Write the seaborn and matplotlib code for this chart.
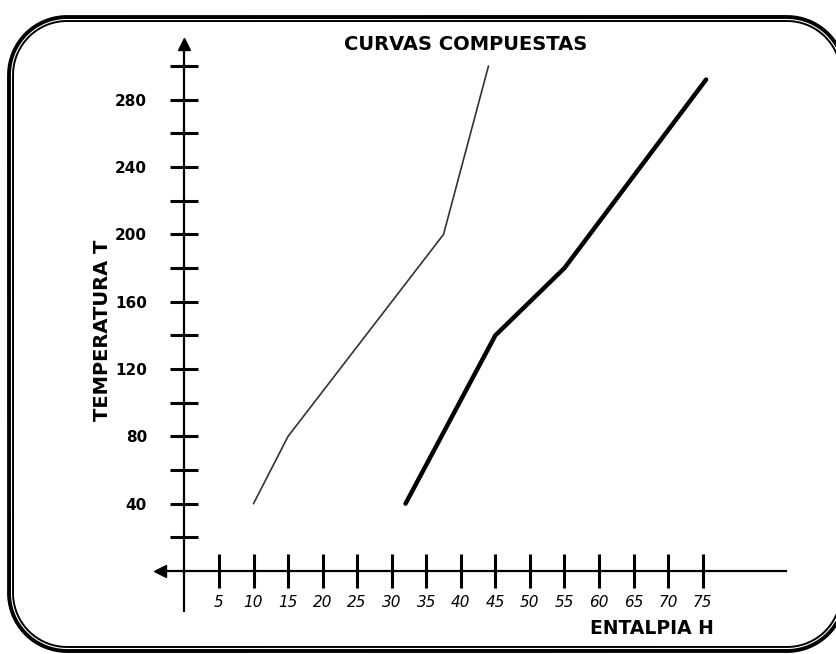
import matplotlib
matplotlib.use("Agg")
import matplotlib.pyplot as plt
from matplotlib.ticker import FixedLocator, NullFormatter
import numpy as np
import pandas as pd
import seaborn as sns

# Composite curves: hot stream (thin) and cold stream (thick)
hot_h = [10, 15, 37.5, 44]
hot_t = [40, 80, 200, 300]
cold_h = [32, 45, 55, 75.5]
cold_t = [40, 140, 180, 292]

x_ticks = [5, 10, 15, 20, 25, 30, 35, 40, 45, 50, 55, 60, 65, 70, 75]
y_major = [40, 80, 120, 160, 200, 240, 280]
y_minor = [20, 60, 100, 140, 180, 220, 260, 300]

title = "CURVAS COMPUESTAS"
xlabel = "ENTALPIA H"
ylabel = "TEMPERATURA T"

sns.set_style("white")
plt.rcParams["font.family"] = ["DejaVu Sans"]
plt.rcParams["text.color"] = "black"

W, H = 836, 654
fig = plt.figure(figsize=(W / 100, H / 100), dpi=100)


def rounded_outline(left, bottom, right, top, r, n=40):
    """Closed polyline of a rounded rectangle (pixel units)."""
    pts = []
    corners = [((right - r, top - r), 0), ((left + r, top - r), 90),
               ((left + r, bottom + r), 180), ((right - r, bottom + r), 270)]
    for (cx, cy), a0 in corners:
        a = np.radians(np.linspace(a0, a0 + 90, n))
        pts.append(np.column_stack([cx + r * np.cos(a), cy + r * np.sin(a)]))
    pts = np.vstack(pts + [pts[0][:1]])
    return pts[:, 0], pts[:, 1]


# Background layer in pixel units for the rounded double border
bg = fig.add_axes([0, 0, 1, 1], zorder=0)
bg.set_xlim(0, W)
bg.set_ylim(0, H)
bg.axis("off")
bx, by = rounded_outline(9, 3, 845, 637, 58)
bg.plot(bx, by, color="black", lw=2.8)
bx, by = rounded_outline(13, 7, 841, 633, 54)
bg.plot(bx, by, color="black", lw=1.4)

ax = fig.add_axes([0, 0, 1, 1], zorder=1)
ax.patch.set_alpha(0)

# Data scale: x pixel = 184.4 + 6.91*h ; y pixel(from top) = 571 - 1.683*t
x0, sx = 184.4, 6.91
y0, sy = 571.0, 1.683
ax.set_xlim((0 - x0) / sx, (W - x0) / sx)
ax.set_ylim((y0 - H) / sy, y0 / sy)

hot = pd.DataFrame({"H": hot_h, "T": hot_t})
cold = pd.DataFrame({"H": cold_h, "T": cold_t})
sns.lineplot(data=hot, x="H", y="T", sort=False, color="#333333", lw=1.2, ax=ax)
sns.lineplot(data=cold, x="H", y="T", sort=False, color="black", lw=3.2, ax=ax)

# Axes crossing at the origin
for side in ("top", "right"):
    ax.spines[side].set_visible(False)
ax.spines["left"].set_position(("data", 0))
ax.spines["bottom"].set_position(("data", 0))
ax.spines["left"].set_bounds(-24, 312)
ax.spines["bottom"].set_bounds(-3.5, 87)
for side in ("left", "bottom"):
    ax.spines[side].set_linewidth(1.6)
    ax.spines[side].set_color("black")
ax.plot([0], [313], marker="^", ms=9, color="black", clip_on=False)
ax.plot([-3.6], [0], marker="<", ms=9, color="black", clip_on=False)

ax.xaxis.set_major_locator(FixedLocator(x_ticks))
ax.set_xticklabels([str(v) for v in x_ticks], fontsize=11, style="italic")
ax.yaxis.set_major_locator(FixedLocator(y_major))
ax.yaxis.set_minor_locator(FixedLocator(y_minor))
ax.yaxis.set_minor_formatter(NullFormatter())
ax.set_yticklabels([str(v) for v in y_major], fontsize=11, fontweight="bold")
ax.tick_params(axis="x", which="major", bottom=True, direction="inout", length=25,
               width=2.2, pad=5, colors="black")
ax.tick_params(axis="y", which="both", left=True, direction="inout", length=20,
               width=2.2, pad=17, colors="black")
ax.set_xlabel("")
ax.set_ylabel("")

# Titles and axis names
fig.text(466 / W, 1 - 45 / H, title, ha="center", va="center",
         fontsize=14, fontweight="heavy", color="black")
fig.text(714 / W, 1 - 628 / H, xlabel, ha="right", va="center",
         fontsize=13.5, fontweight="heavy", color="black")
fig.text(103 / W, 1 - 330 / H, ylabel, ha="center", va="center",
         rotation=90, fontsize=14, fontweight="heavy", color="black")

fig.savefig("out.png", dpi=100, facecolor="white")
